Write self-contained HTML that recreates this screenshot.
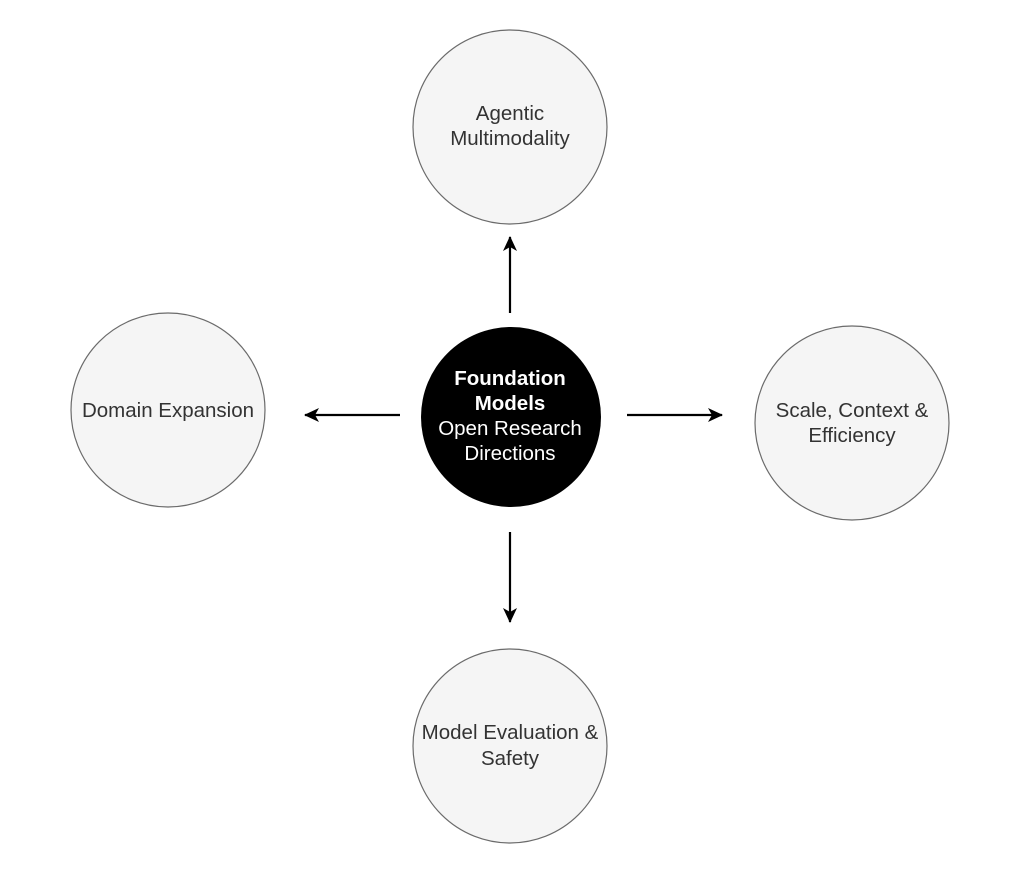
<!DOCTYPE html>
<html><head><meta charset="utf-8"><style>
html,body{margin:0;padding:0;background:#fff;}
</style></head><body>
<svg width="1024" height="874" viewBox="0 0 1024 874" xmlns="http://www.w3.org/2000/svg" font-family="Liberation Sans, Arial, sans-serif">
<defs>
<marker id="ah" markerWidth="16" markerHeight="14" refX="14" refY="7" orient="auto" markerUnits="userSpaceOnUse">
<path d="M0,0 L15,7 L0,14 L4,7 Z" fill="#000"/>
</marker>
</defs>
<g fill="#f5f5f5" stroke="#6b6b6b" stroke-width="1.2">
<circle cx="510" cy="127" r="97"/>
<circle cx="168" cy="410" r="97"/>
<circle cx="852" cy="423" r="97"/>
<circle cx="510" cy="746" r="97"/>
</g>
<circle cx="511" cy="417" r="90" fill="#000"/>
<g stroke="#000" stroke-width="2.2" marker-end="url(#ah)">
<line x1="510" y1="313" x2="510" y2="237"/>
<line x1="400" y1="415" x2="305" y2="415"/>
<line x1="627" y1="415" x2="722" y2="415"/>
<line x1="510" y1="532" x2="510" y2="622"/>
</g>
<g font-size="20.5" fill="#333" text-anchor="middle">
<text x="510" y="120">Agentic</text>
<text x="510" y="145">Multimodality</text>
<text x="168" y="417">Domain Expansion</text>
<text x="852" y="417">Scale, Context &amp;</text>
<text x="852" y="442">Efficiency</text>
<text x="510" y="739">Model Evaluation &amp;</text>
<text x="510" y="765">Safety</text>
</g>
<g font-size="20.5" fill="#fff" text-anchor="middle">
<text x="510" y="385" font-weight="bold">Foundation</text>
<text x="510" y="410" font-weight="bold">Models</text>
<text x="510" y="435">Open Research</text>
<text x="510" y="460">Directions</text>
</g>
</svg>
</body></html>
